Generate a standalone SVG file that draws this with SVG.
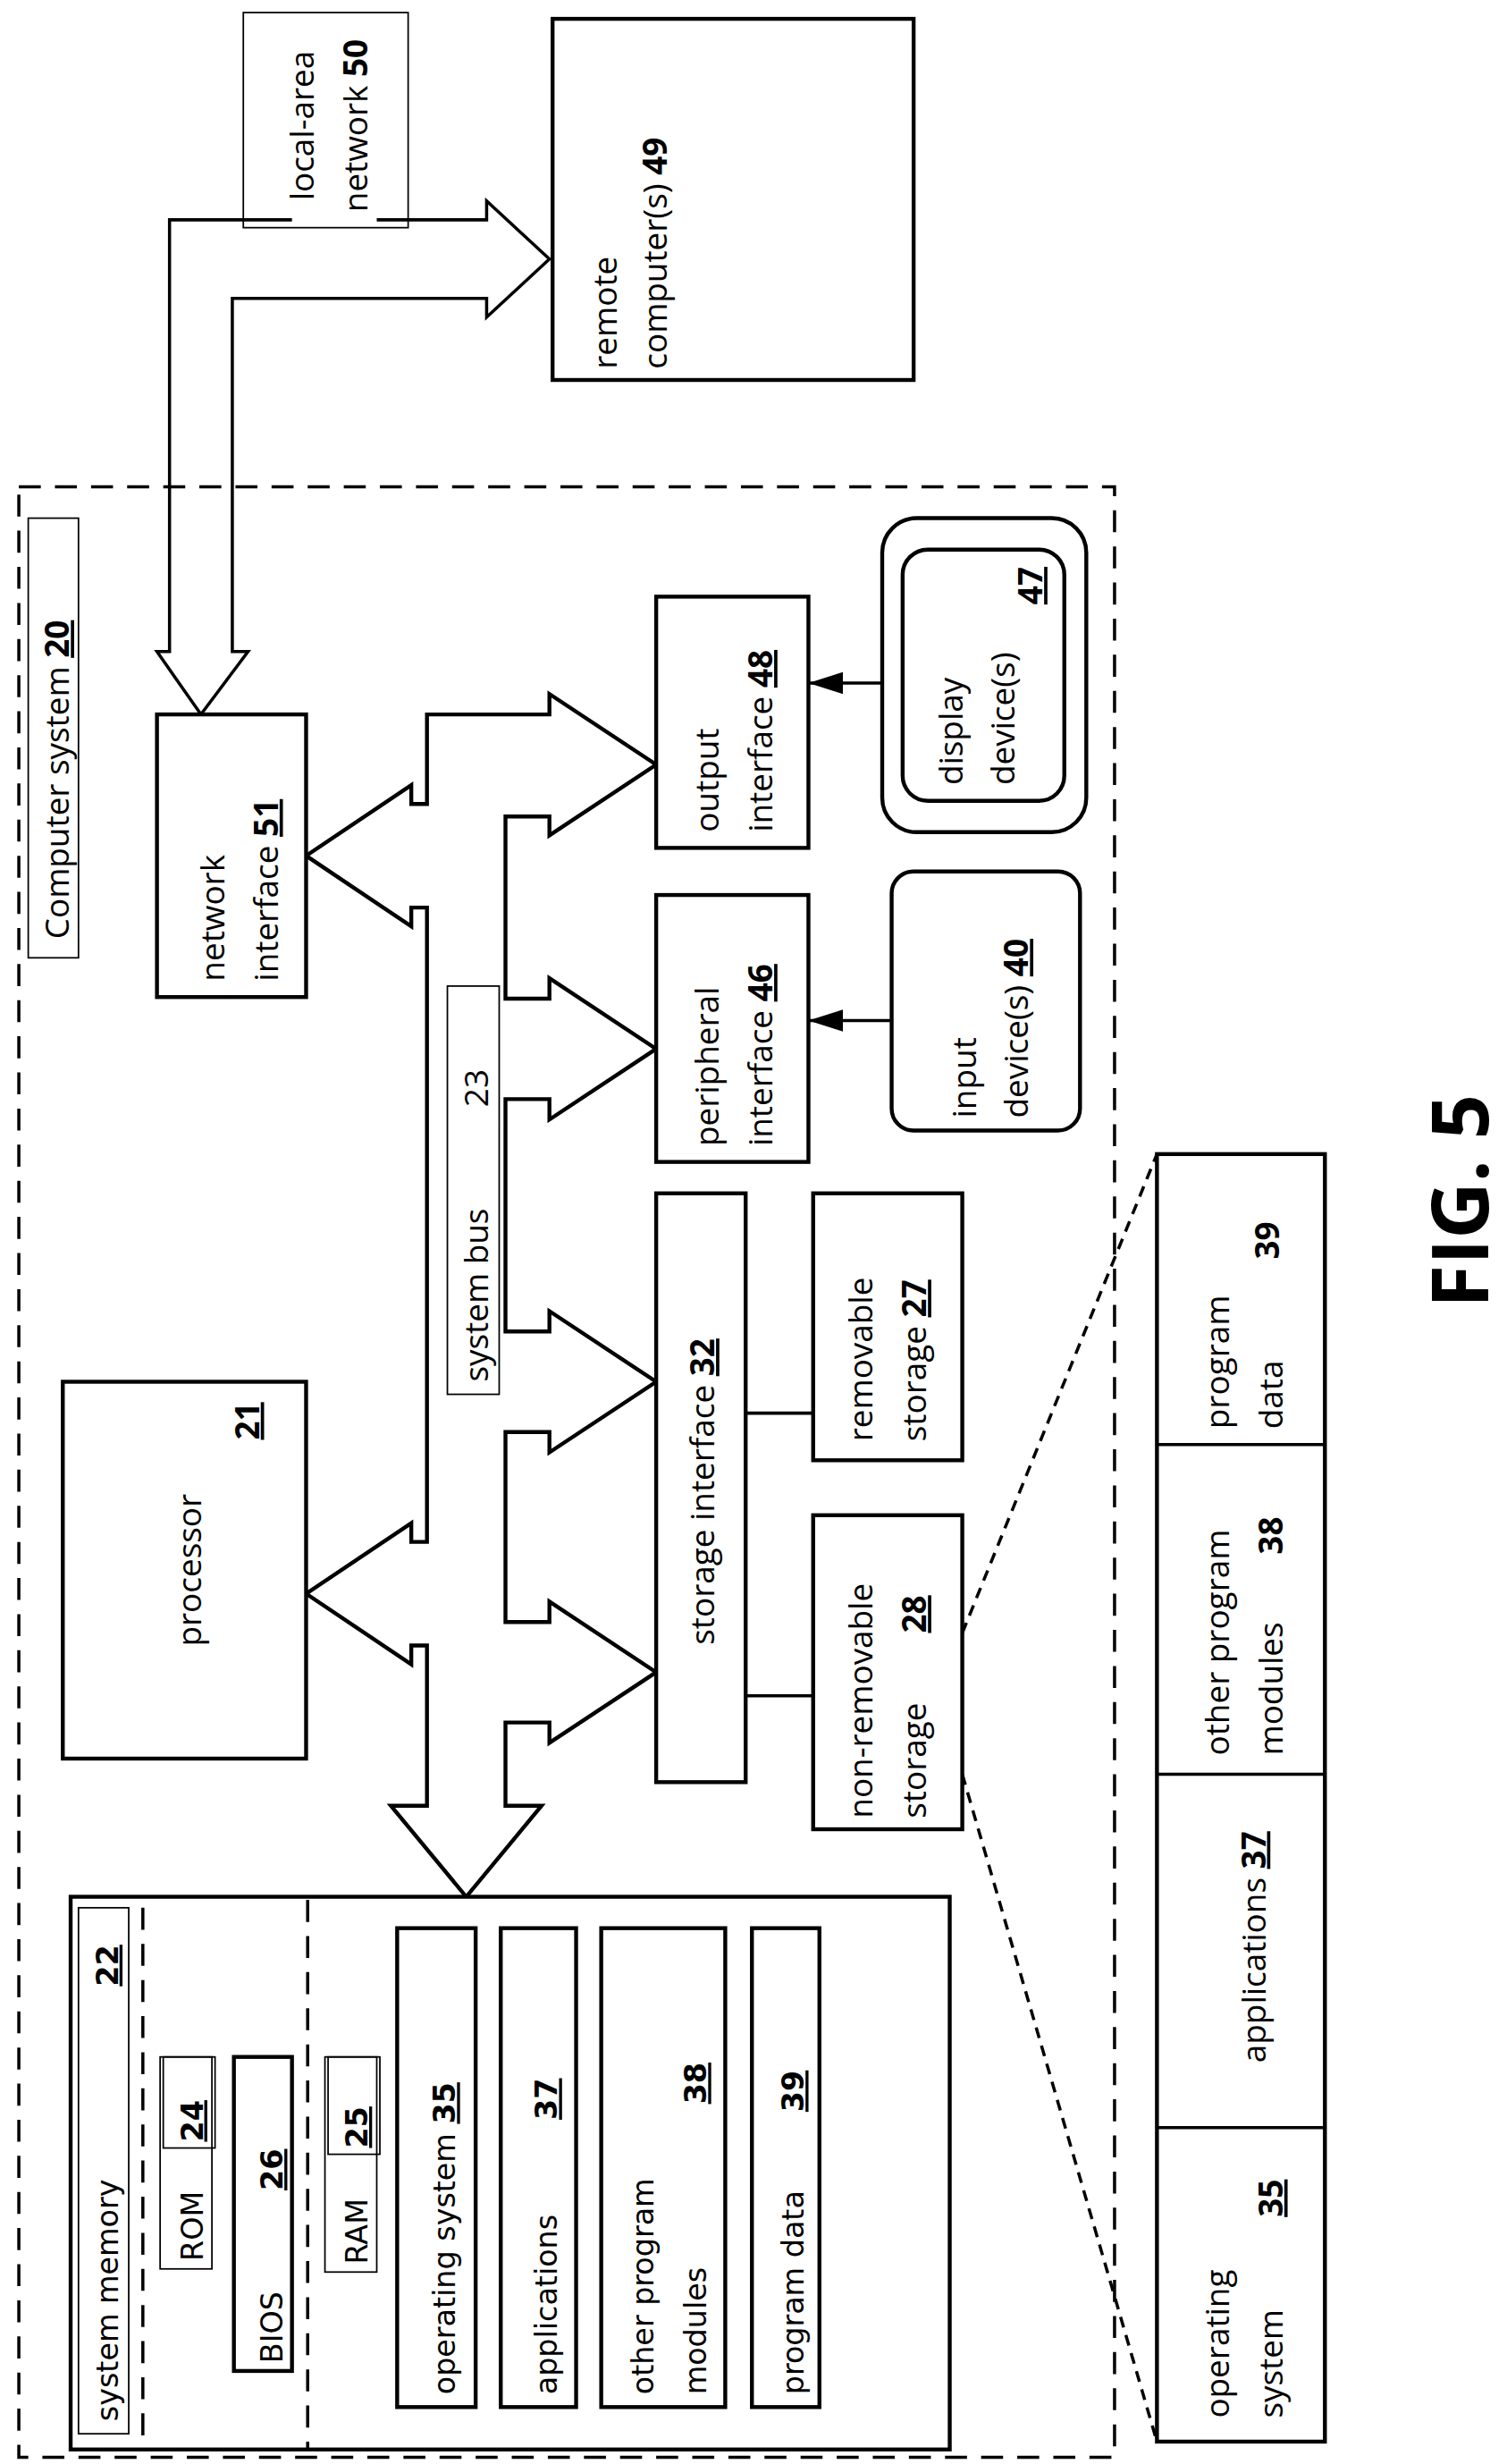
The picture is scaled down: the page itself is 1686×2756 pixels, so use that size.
<svg xmlns="http://www.w3.org/2000/svg" width="1686" height="2756" viewBox="0 0 1686 2756">
<style>
.b{fill:#fff;stroke:#000;stroke-width:2.5}
.th{fill:none;stroke:#000;stroke-width:1}
.ln{fill:none;stroke:#000;stroke-width:2}
.ds{fill:none;stroke:#000;stroke-width:2;stroke-dasharray:14,9}
.ds2{fill:none;stroke:#000;stroke-width:2;stroke-dasharray:7,5}
text{font-family:"Open Sans","Liberation Sans",sans-serif;font-size:21px;fill:#000}
.m{font-family:"DejaVu Sans",sans-serif;font-size:19px}
.n{font-weight:bold}
.u{text-decoration:underline}
.c{text-anchor:middle}
</style>
<defs>
<marker id="ah2" markerWidth="22" markerHeight="14" refX="22" refY="7" orient="auto" markerUnits="userSpaceOnUse"><path d="M0,0 L22,7 L0,14 Z" fill="#000"/></marker></defs>
<rect width="1686" height="2756" fill="#fff"/>
<g transform="scale(1.75625)">
<rect class="ds" x="12" y="310" width="698" height="1255"/>
<g id="connectors">
<path class="b" d="M272,455 H350 V442 L418,487 L350,532 V520 H322 V636 H350 V623 L418,668 L350,713 V700 H322 V848 H350 V835 L418,880 L350,925 V912 H322 V1033 H350 V1020 L418,1065 L350,1110 V1097 H322 V1150 H345 L297,1208 L249,1150 H272 V1048 H262 V1060 L195,1015 L262,970 V982 H272 V578 H262 V590 L195,545 L262,500 V512 H272 Z"/>
<path class="ln" d="M186,140 H108 V415 H100 L128,455 L158,415 H148 V190 H310 V202 L350,165 L310,128 V140 H240"/>
<line class="ln" x1="475" y1="900" x2="518" y2="900"/>
<line class="ln" x1="475" y1="1080" x2="518" y2="1080"/>
<line class="ln" x1="562" y1="435" x2="515" y2="435" marker-end="url(#ah2)"/>
<line class="ln" x1="568" y1="650" x2="515" y2="650" marker-end="url(#ah2)"/>
<line class="ds2" x1="613" y1="1040" x2="737" y2="735"/>
<line class="ds2" x1="613" y1="1130" x2="737" y2="1555"/>
</g>
<g id="lan"><rect class="th" x="155" y="8" width="105" height="137"/>
<text transform="translate(200,80) rotate(-90)" class="c">local-area</text>
<text transform="translate(234,80) rotate(-90)" class="c">network <tspan class="n">50</tspan></text></g>
<g id="remote"><rect class="b" x="352" y="12" width="230" height="230"/>
<text transform="translate(393,235) rotate(-90)">remote</text>
<text transform="translate(425,235) rotate(-90)">computer(s)  <tspan class="n">49</tspan></text></g>
<g id="cs"><rect class="th" x="18" y="330" width="32" height="280"/>
<text transform="translate(44,598) rotate(-90)">Computer system <tspan class="n u">20</tspan></text></g>
<g id="netif"><rect class="b" x="100" y="455" width="95" height="180"/>
<text transform="translate(143,625) rotate(-90)">network</text>
<text transform="translate(177,625) rotate(-90)">interface <tspan class="n u">51</tspan></text></g>
<g id="proc"><rect class="b" x="40" y="880" width="155" height="240"/>
<text transform="translate(128,1000) rotate(-90)" class="c">processor</text>
<text transform="translate(165,905) rotate(-90)" class="c n u">21</text></g>
<g id="bus"><rect class="th" x="285" y="628" width="33" height="260"/>
<text transform="translate(311,880) rotate(-90)">system bus</text>
<text transform="translate(311,705) rotate(-90)">23</text></g>
<g id="outif"><rect class="b" x="418" y="380" width="97" height="160"/>
<text transform="translate(458,530) rotate(-90)">output</text>
<text transform="translate(492,530) rotate(-90)">interface <tspan class="n u">48</tspan></text></g>
<g id="perif"><rect class="b" x="418" y="570" width="97" height="170"/>
<text transform="translate(458,730) rotate(-90)">peripheral</text>
<text transform="translate(492,730) rotate(-90)">interface <tspan class="n u">46</tspan></text></g>
<g id="display"><rect class="b" x="562" y="330" width="130" height="200" rx="22"/>
<rect class="b" x="575" y="350" width="103" height="160" rx="16"/>
<text transform="translate(613,500) rotate(-90)">display</text>
<text transform="translate(646,500) rotate(-90)">device(s)</text>
<text transform="translate(664,385) rotate(-90)" class="n u">47</text></g>
<g id="input"><rect class="b" x="568" y="555" width="120" height="165" rx="14"/>
<text transform="translate(622,712) rotate(-90)">input</text>
<text transform="translate(655,712) rotate(-90)">device(s)  <tspan class="n u">40</tspan></text></g>
<g id="stif"><rect class="b" x="418" y="760" width="57" height="375"/>
<text transform="translate(455,950) rotate(-90)" class="c">storage interface <tspan class="n u">32</tspan></text></g>
<g id="rem"><rect class="b" x="518" y="760" width="95" height="170"/>
<text transform="translate(556,918) rotate(-90)">removable</text>
<text transform="translate(590,918) rotate(-90)">storage  <tspan class="n u">27</tspan></text></g>
<g id="nonrem"><rect class="b" x="518" y="965" width="95" height="200"/>
<text transform="translate(556,1158) rotate(-90)">non-removable</text>
<text transform="translate(590,1158) rotate(-90)">storage</text>
<text transform="translate(590,1040) rotate(-90)" class="n u">28</text></g>
<g id="mem"><rect class="b" x="45" y="1208" width="560" height="352"/>
<rect class="th" x="50" y="1215" width="32" height="335"/>
<text class="m" transform="translate(75,1542) rotate(-90)">system memory</text>
<text class="m n u" transform="translate(75,1265) rotate(-90)">22</text>
<path class="ds" d="M91,1215 V1560 M196,1210 V1560"/>
<rect class="th" x="102" y="1310" width="33" height="135"/>
<rect class="th" x="104" y="1310" width="33" height="58"/>
<text class="m" transform="translate(129,1440) rotate(-90)">ROM</text>
<text class="m n u" transform="translate(129,1364) rotate(-90)">24</text>
<rect class="b" x="149" y="1310" width="37" height="200"/>
<text class="m" transform="translate(180,1505) rotate(-90)">BIOS</text>
<text class="m n u" transform="translate(180,1395) rotate(-90)">26</text>
<rect class="th" x="207" y="1310" width="33" height="137"/>
<rect class="th" x="209" y="1310" width="33" height="62"/>
<text class="m" transform="translate(234,1442) rotate(-90)">RAM</text>
<text class="m n u" transform="translate(234,1368) rotate(-90)">25</text>
<rect class="b" x="253" y="1228" width="50" height="305"/>
<text class="m" transform="translate(290,1525) rotate(-90)">operating system <tspan class="n u">35</tspan></text>
<rect class="b" x="319" y="1228" width="48" height="305"/>
<text class="m" transform="translate(355,1525) rotate(-90)">applications</text>
<text class="m n u" transform="translate(355,1350) rotate(-90)">37</text>
<rect class="b" x="383" y="1228" width="79" height="305"/>
<text class="m" transform="translate(416,1525) rotate(-90)">other program</text>
<text class="m" transform="translate(450,1525) rotate(-90)">modules</text>
<text class="m n u" transform="translate(450,1340) rotate(-90)">38</text>
<rect class="b" x="479" y="1228" width="43" height="305"/>
<text class="m" transform="translate(512,1525) rotate(-90)">program data</text>
<text class="m n u" transform="translate(512,1345) rotate(-90)">39</text></g>
<g id="table"><rect class="b" x="737" y="735" width="107" height="820"/>
<path class="ln" d="M737,920 H844 M737,1130 H844 M737,1355 H844"/>
<text transform="translate(783,910) rotate(-90)">program</text>
<text transform="translate(817,910) rotate(-90)">data</text>
<text transform="translate(815,802) rotate(-90)" class="n">39</text>
<text transform="translate(783,1118) rotate(-90)">other program</text>
<text transform="translate(817,1118) rotate(-90)">modules</text>
<text transform="translate(817,990) rotate(-90)" class="n">38</text>
<text transform="translate(806,1240) rotate(-90)" class="c">applications <tspan class="n u">37</tspan></text>
<text transform="translate(783,1540) rotate(-90)">operating</text>
<text transform="translate(817,1540) rotate(-90)">system</text>
<text transform="translate(817,1412) rotate(-90)" class="n u">35</text></g>
<text transform="translate(948,765) rotate(-90)" class="c n" style="font-size:50px">FIG. 5</text>
</g>
</svg>
